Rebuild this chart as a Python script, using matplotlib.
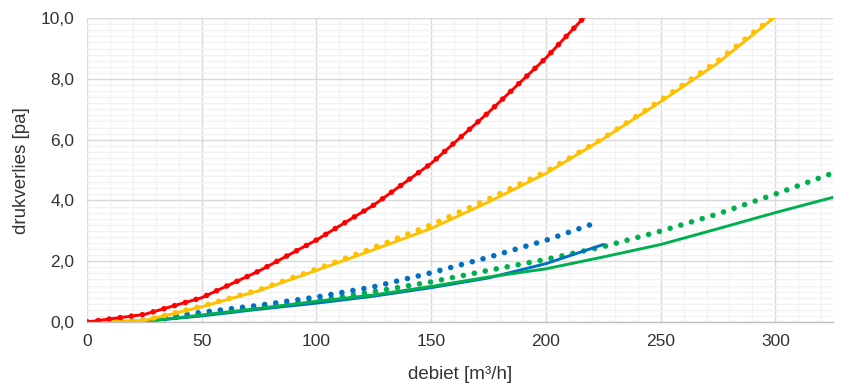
import matplotlib
matplotlib.use("Agg")
import matplotlib.pyplot as plt
from matplotlib.ticker import MultipleLocator, FuncFormatter

plt.rcParams['font.family'] = ['Liberation Sans', 'DejaVu Sans']

# debiet [m3/h]
x_red = [0, 25, 50, 75, 100, 125, 150, 175, 200, 225]
red = [0, 0.25, 0.80, 1.68, 2.70, 3.85, 5.22, 6.90, 8.69, 10.7]
red_dots = [0, 0.25, 0.80, 1.68, 2.70, 3.85, 5.22, 6.90, 8.69, 10.7]

x_yellow = [0, 25, 50, 75, 100, 125, 150, 175, 200, 225, 250, 275, 300]
yellow = [0, 0.05, 0.50, 1.03, 1.70, 2.38, 3.08, 3.95, 4.89, 6.03, 7.25, 8.53, 10.05]
yellow_dots = [0, 0.05, 0.52, 1.06, 1.74, 2.45, 3.20, 4.05, 4.95, 6.05, 7.30, 8.60, 10.1]

x_blue = [0, 25, 50, 75, 100, 125, 150, 175, 200, 225]
blue = [0, 0.02, 0.20, 0.42, 0.62, 0.85, 1.13, 1.45, 1.92, 2.55]
x_blue_dots = [0, 25, 50, 75, 100, 125, 150, 175, 200, 222]
blue_dots = [0, 0.05, 0.32, 0.55, 0.82, 1.16, 1.62, 2.13, 2.69, 3.27]

x_green = [0, 25, 50, 75, 100, 125, 150, 175, 200, 225, 250, 275, 300, 325]
green = [0, 0.02, 0.23, 0.45, 0.68, 0.89, 1.17, 1.48, 1.75, 2.14, 2.55, 3.07, 3.60, 4.10]
green_dots = [0, 0.03, 0.25, 0.48, 0.70, 1.00, 1.32, 1.70, 2.06, 2.48, 2.99, 3.56, 4.21, 4.90]

RED, YELLOW, BLUE, GREEN = "#FF0000", "#FFC000", "#0070C0", "#00B050"
TXT = "#333333"

fig = plt.figure(figsize=(8.62, 3.87), dpi=100)
ax = fig.add_axes([0.101, 0.168, 0.865, 0.785])

solid = dict(linewidth=2.1, solid_joinstyle="round", solid_capstyle="round")
dotted = dict(linewidth=4.0, linestyle=(0, (0.01, 2.0)), dash_capstyle="round")

ax.plot(x_green, green_dots, color=GREEN, **dotted)
ax.plot(x_blue_dots, blue_dots, color=BLUE, **dotted)
ax.plot(x_blue, blue, color=BLUE, **solid)
ax.plot(x_green, green, color=GREEN, **solid)
ax.plot(x_yellow, yellow_dots, color=YELLOW, **dotted)
ax.plot(x_yellow, yellow, color=YELLOW, **solid)
ax.plot(x_red, red_dots, color=RED, **dotted)
ax.plot(x_red, red, color=RED, **solid)

ax.set_xlim(0, 325)
ax.set_ylim(0, 10)
ax.xaxis.set_major_locator(MultipleLocator(50))
ax.xaxis.set_minor_locator(MultipleLocator(10))
ax.yaxis.set_major_locator(MultipleLocator(2))
ax.yaxis.set_minor_locator(MultipleLocator(0.2))
ax.yaxis.set_major_formatter(FuncFormatter(lambda v, p: f"{v:.1f}".replace(".", ",")))

ax.grid(which="major", color="#D9D9D9", linewidth=1.0)
ax.grid(which="minor", color="#F2F2F2", linewidth=1.0)
ax.set_axisbelow(True)

for s in ["top", "right", "left"]:
    ax.spines[s].set_visible(False)
ax.spines["bottom"].set_color("#BFBFBF")
ax.spines["bottom"].set_linewidth(1.0)

ax.tick_params(which="both", length=0)
ax.tick_params(axis="x", pad=9, labelsize=12.5, colors=TXT)
ax.tick_params(axis="y", pad=9, labelsize=12.5, colors=TXT)

ax.set_xlabel("debiet [m³/h]", fontsize=13.5, color=TXT, labelpad=12)
ax.set_ylabel("drukverlies [pa]", fontsize=13.5, color=TXT, labelpad=8)

fig.savefig("out.png", dpi=100)
